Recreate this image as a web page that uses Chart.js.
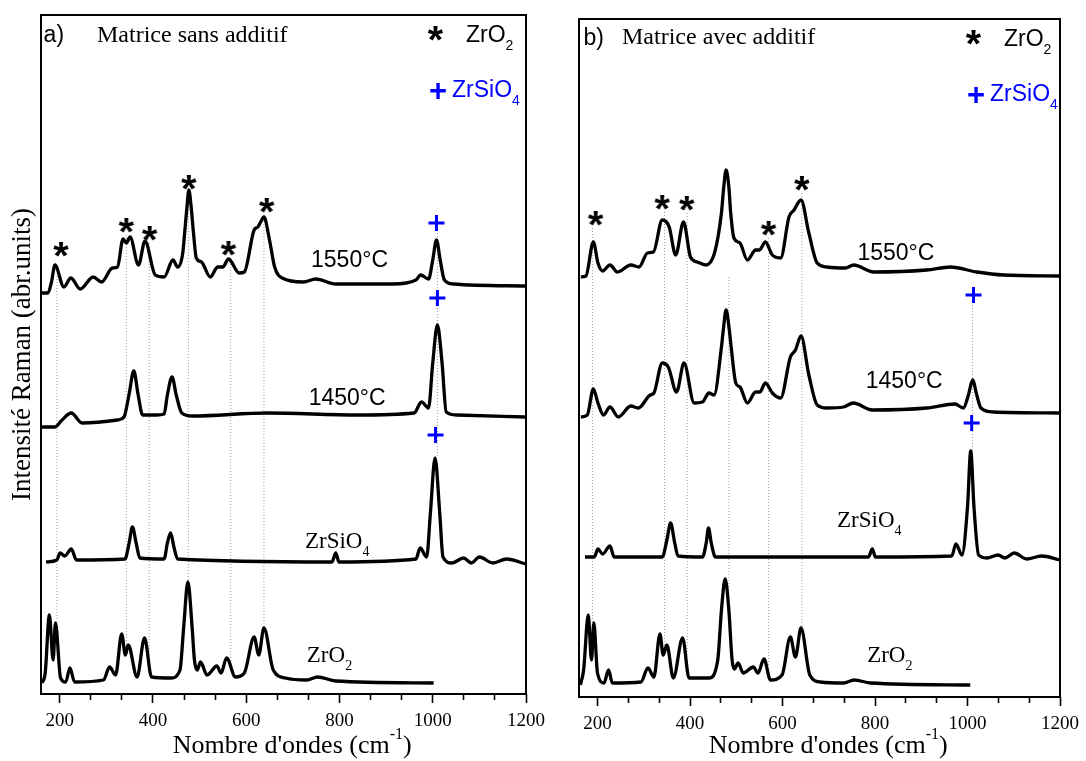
<!DOCTYPE html>
<html>
<head>
<meta charset="utf-8">
<title>Spectres Raman</title>
<script src="https://cdn.jsdelivr.net/npm/chart.js@4.4.1/dist/chart.umd.min.js"></script>
<style>
  html, body { margin: 0; padding: 0; background: #fff; }
  #wrap { position: relative; width: 1086px; height: 761px; overflow: hidden; background: #fff; }
  #wrap canvas { position: absolute; top: 0; }
</style>
</head>
<body>
<div id="wrap">
  <canvas id="chartA" width="565" height="761" style="left:0"></canvas>
  <canvas id="chartB" width="546" height="761" style="left:540px"></canvas>
</div>
<script>
// x axis ticks (cm-1)
const majorTicks = [200, 400, 600, 800, 1000, 1200];
const tickLabels = ["200", "400", "600", "800", "1000", "1200"];
const minorTicks = [266.67, 333.33, 466.67, 533.33, 666.67, 733.33, 866.67, 933.33, 1066.67, 1133.33];

// a) Matrice sans additif
const a1550Wn = [160,175,182,190,209,224,244,272,290,313,324,336,343,351,369,383,405,424,443,453,464,468,473,477,482,487,493,504,523,539,550,562,585,596,617,625,631,638,650,661,677,723,749,792,914,964,974,991,1000,1008,1016,1025,1044,1200];
const a1550I  = [401,401,411,429,407,416,405,417,412,426,427,455,451,457,429,453,419,417,434,427,441,461,487,504,487,461,436,432,417,427,427,435,421,422,464,467,472,477,454,427,416,412,415,410,410,414,419,415,434,454,434,414,410,408];

const a1450Wn = [162,190,205,225,248,324,338,349,359,368,378,408,424,431,441,450,462,485,646,838,960,976,991,1000,1010,1020,1029,1052,1200];
const a1450I  = [267,267,274,281,271,274,277,300,323,300,279,279,280,299,317,299,281,278,281,279,281,292,286,331,369,331,282,279,277];

const aZsWn = [171,194,201,211,225,236,340,349,356,364,372,424,431,438,445,453,784,792,799,964,973,987,995,1005,1015,1022,1041,1066,1083,1100,1129,1158,1200];
const aZsI  = [132,134,141,138,145,134,135,151,167,151,136,135,151,161,147,135,132,141,132,135,146,137,181,236,181,137,131,136,131,137,131,135,130];

const aZoWn = [162,169,178,186,191,202,213,222,232,294,307,320,333,341,347,366,382,397,439,458,466,475,484,489,495,502,516,537,546,558,577,596,617,627,638,658,684,730,753,792,1002];
const aZoI  = [11,21,79,34,71,16,12,26,12,14,27,19,60,39,49,17,56,17,16,24,67,112,67,34,24,32,19,28,21,36,17,21,57,39,66,24,16,14,17,13,11];

const aStarWn = [203, 343, 393, 477, 562, 644];
const aStarI  = [445, 469, 461, 512, 446, 489];
const aPlusWn = [1008, 1010, 1006];
const aPlusI  = [471, 396, 259];
const aGuideWn  = [194, 343, 392, 476, 567, 638, 1010];
const aGuideTop = [418, 459, 451, 502, 436, 479, 461];
const aGuideBot = [60, 40, 30, 110, 30, 66, 236];

// b) Matrice avec additif
const b1550Wn = [164,175,191,201,211,227,243,272,290,308,321,340,355,369,386,401,416,434,453,468,473,478,484,488,495,508,524,542,550,563,578,596,614,625,640,657,675,696,736,754,797,912,963,1020,1078,1200];
const b1550I  = [420,421,455,434,426,432,425,432,430,444,445,477,470,442,475,440,435,432,444,484,510,527,510,484,459,454,437,447,447,455,442,439,480,487,497,464,434,430,429,432,425,427,430,425,422,421];

const b1450Wn = [164,178,191,201,213,227,245,272,288,314,322,340,353,371,387,409,427,441,452,468,472,478,485,489,499,508,524,542,551,563,578,596,617,628,640,657,675,696,732,753,794,912,973,991,1002,1011,1020,1029,1056,1200];
const b1450I  = [280,282,308,294,282,290,280,291,289,302,304,334,330,305,334,294,295,304,302,350,367,387,367,350,314,310,294,305,305,314,304,299,340,347,361,322,292,289,290,294,287,289,293,289,302,317,302,289,285,284];

const bZsWn = [173,193,201,211,227,236,340,350,358,367,374,427,435,440,446,455,786,794,801,966,975,988,1000,1007,1014,1024,1042,1066,1081,1101,1128,1160,1200];
const bZsI  = [140,140,148,143,151,140,140,157,174,154,141,140,154,169,154,140,140,148,140,141,153,142,190,246,190,142,139,142,139,144,138,141,137];

const bZoWn = [163,170,180,187,192,200,214,224,232,294,309,322,335,342,350,364,384,398,441,460,468,476,484,491,496,504,515,537,547,560,574,599,617,628,640,659,682,732,755,790,1006];
const bZoI  = [12,27,82,37,74,24,14,27,14,15,29,20,63,42,52,19,59,19,19,37,87,118,87,37,28,34,24,30,24,38,17,22,60,40,69,22,15,14,17,14,12];

const bStarWn = [196, 340, 393, 570, 642];
const bStarI  = [479, 495, 494, 469, 514];
const bPlusWn = [1013, 1009];
const bPlusI  = [402, 274];
const bGuideWn  = [189, 345, 394, 484, 570, 642, 1011];
const bGuideTop = [469, 485, 484, 420, 459, 504, 392];
const bGuideBot = [74, 45, 40, 95, 30, 69, 246];

const FONT_SANS = '"Liberation Sans", Arial, sans-serif';
const FONT_SERIF = '"Liberation Serif", "Times New Roman", serif';
const BLUE = "#0000ff";

// asterisk marker, drawn from the font glyph
const makeStar = (h) => {
    const probe = document.createElement("canvas").getContext("2d");
    probe.font = `bold 100px ${FONT_SANS}`;
    const pm = probe.measureText("*");
    const fs = (100 * h) / (pm.actualBoundingBoxAscent + pm.actualBoundingBoxDescent);
    const size = Math.ceil(h * 1.6);
    const c = document.createElement("canvas");
    c.width = size;
    c.height = size;
    const g = c.getContext("2d");
    g.font = `bold ${fs}px ${FONT_SANS}`;
    g.textAlign = "center";
    const m = g.measureText("*");
    g.fillStyle = "#000";
    g.fillText("*", size / 2, size / 2 + (m.actualBoundingBoxAscent - m.actualBoundingBoxDescent) / 2);
    return { img: c, fontSize: fs };
};
const star = makeStar(15);

const drawRich = (ctx, x, y, parts, family, size, color) => {
    ctx.fillStyle = color;
    ctx.textAlign = "left";
    ctx.textBaseline = "alphabetic";
    parts.forEach(([txt, kind]) => {
        let fs = size;
        let dy = 0;
        if (kind === "sub") { fs = Math.round(size * 0.62); dy = size * 0.36; }
        if (kind === "sup") { fs = Math.round(size * 0.62); dy = -size * 0.52; }
        ctx.font = `${fs}px ${family}`;
        ctx.fillText(txt, x, y + dy);
        x += ctx.measureText(txt).width;
    });
    return x;
};

const richWidth = (ctx, parts, family, size) => {
    let w = 0;
    parts.forEach(([txt, kind]) => {
        const fs = kind ? Math.round(size * 0.62) : size;
        ctx.font = `${fs}px ${family}`;
        w += ctx.measureText(txt).width;
    });
    return w;
};

const centeredGlyph = (ctx, ch, cx, cy, font, color) => {
    ctx.font = font;
    ctx.fillStyle = color;
    ctx.textAlign = "center";
    ctx.textBaseline = "alphabetic";
    const m = ctx.measureText(ch);
    ctx.fillText(ch, cx, cy + (m.actualBoundingBoxAscent - m.actualBoundingBoxDescent) / 2);
};

const panelPlugin = (p) => ({
    id: "panelText" + p.tag,
    afterDraw(chart) {
        const { ctx, chartArea: ca, scales } = chart;
        ctx.save();
        ctx.strokeStyle = "#000";
        ctx.lineWidth = 2;
        ctx.strokeRect(ca.left, ca.top, ca.right - ca.left, ca.bottom - ca.top);

        drawRich(ctx, ca.left + p.tagDx, ca.top + p.tagDy, [[p.tag + ")"]], FONT_SANS, 23, "#000");
        drawRich(ctx, ca.left + p.titleDx, ca.top + p.titleDy, [[p.title]], FONT_SERIF, 24, "#000");

        // key
        centeredGlyph(ctx, "*", ca.left + 394.5, ca.top + p.keyDy + 18, `bold ${star.fontSize}px ${FONT_SANS}`, "#000");
        drawRich(ctx, ca.left + 425, ca.top + p.keyDy + 27, [["ZrO"], ["2", "sub"]], FONT_SANS, 23, "#000");
        centeredGlyph(ctx, "+", ca.left + 397, ca.top + p.keyDy + 75, `bold 31px ${FONT_SANS}`, BLUE);
        drawRich(ctx, ca.left + 411, ca.top + p.keyDy + 82, [["ZrSiO"], ["4", "sub"]], FONT_SANS, 23, BLUE);

        p.labels.forEach((l) => {
            drawRich(ctx, scales.x.getPixelForValue(l.x), scales.y.getPixelForValue(l.y),
                l.parts, l.serif ? FONT_SERIF : FONT_SANS, 23, "#000");
        });

        const xt = [["Nombre d'ondes (cm"], ["-1", "sup"], [")"]];
        const w = richWidth(ctx, xt, FONT_SERIF, 26);
        drawRich(ctx, (ca.left + ca.right) / 2 - w / 2 + 8.7, 753, xt, FONT_SERIF, 26, "#000");
        ctx.restore();
    },
});

const spectrum = (xs, ys) => ({
    data: xs.map((x, i) => ({ x, y: ys[i] })),
    borderColor: "#000",
    borderWidth: 3.3,
    pointRadius: 0,
    cubicInterpolationMode: "monotone",
    borderJoinStyle: "round",
    fill: false,
    order: 1,
});

const guides = (xs, tops, bots) => xs.map((x, i) => ({
    data: [{ x, y: tops[i] }, { x, y: bots[i] }],
    borderColor: "#999999",
    borderWidth: 1,
    borderDash: [1, 2],
    pointRadius: 0,
    fill: false,
    order: 2,
}));

const markers = (xs, ys, plus) => ({
    data: xs.map((x, i) => ({ x, y: ys[i] })),
    showLine: false,
    pointStyle: plus ? "cross" : star.img,
    pointRadius: 8,
    pointBorderWidth: plus ? 3 : 0,
    pointBorderColor: plus ? BLUE : "#000",
    borderColor: plus ? BLUE : "#000",
    order: 0,
});

const makeChart = (id, p) => {
    new Chart(document.getElementById(id), {
        type: "line",
        data: {
            datasets: [
                ...p.spectra.map(([xs, ys]) => spectrum(xs, ys)),
                markers(p.starWn, p.starI, false),
                markers(p.plusWn, p.plusI, true),
                ...guides(p.guideWn, p.guideTop, p.guideBot),
            ],
        },
        options: {
            responsive: false,
            animation: false,
            events: [],
            layout: { padding: { left: 0, right: p.padRight, top: p.padTop, bottom: 0 } },
            plugins: { legend: { display: false }, tooltip: { enabled: false } },
            scales: {
                x: {
                    type: "linear",
                    position: "bottom",
                    weight: 1,
                    min: 160,
                    max: 1200,
                    afterBuildTicks: (s) => { s.ticks = majorTicks.map((v) => ({ value: v })); },
                    afterFit: (s) => { s.height = p.axisHeight; },
                    ticks: {
                        autoSkip: false,
                        maxRotation: 0,
                        padding: 7,
                        color: "#000",
                        font: { family: FONT_SERIF, size: 19 },
                        callback: (v, i) => tickLabels[i],
                    },
                    grid: { drawOnChartArea: false, tickLength: 9, tickWidth: 1.6, tickColor: "#000" },
                    border: { display: false },
                },
                x2: {
                    type: "linear",
                    position: "bottom",
                    weight: 0,
                    min: 160,
                    max: 1200,
                    afterBuildTicks: (s) => { s.ticks = minorTicks.map((v) => ({ value: v })); },
                    afterFit: (s) => { s.height = 0; },
                    ticks: { display: false },
                    grid: { drawOnChartArea: false, tickLength: 6, tickWidth: 1.6, tickColor: "#000" },
                    border: { display: false },
                },
                y: {
                    min: 0,
                    max: p.yMax,
                    afterFit: (s) => { s.width = p.axisWidth; },
                    ticks: { display: false },
                    grid: { display: false },
                    border: { display: false },
                    title: {
                        display: p.yTitle,
                        text: "Intensité Raman (abr.units)",
                        color: "#000",
                        font: { family: FONT_SERIF, size: 27 },
                        padding: { top: 7, bottom: 0 },
                    },
                },
            },
        },
        plugins: [panelPlugin(p)],
    });
};

makeChart("chartA", {
    tag: "a",
    title: "Matrice sans additif",
    tagDx: 2.6, tagDy: 26.7, titleDx: 56, titleDy: 27, keyDy: 0,
    padRight: 39, padTop: 15, axisHeight: 67, axisWidth: 41, yMax: 679, yTitle: true,
    spectra: [[a1550Wn, a1550I], [a1450Wn, a1450I], [aZsWn, aZsI], [aZoWn, aZoI]],
    starWn: aStarWn, starI: aStarI, plusWn: aPlusWn, plusI: aPlusI,
    guideWn: aGuideWn, guideTop: aGuideTop, guideBot: aGuideBot,
    labels: [
        { x: 739, y: 427, parts: [["1550°C"]] },
        { x: 734, y: 289, parts: [["1450°C"]] },
        { x: 726, y: 146, parts: [["ZrSiO"], ["4", "sub"]], serif: true },
        { x: 730, y: 32, parts: [["ZrO"], ["2", "sub"]], serif: true },
    ],
});

makeChart("chartB", {
    tag: "b",
    title: "Matrice avec additif",
    tagDx: 4.5, tagDy: 26, titleDx: 43, titleDy: 24.5, keyDy: 0,
    padRight: 24, padTop: 19, axisHeight: 64, axisWidth: 39, yMax: 678, yTitle: false,
    spectra: [[b1550Wn, b1550I], [b1450Wn, b1450I], [bZsWn, bZsI], [bZoWn, bZoI]],
    starWn: bStarWn, starI: bStarI, plusWn: bPlusWn, plusI: bPlusI,
    guideWn: bGuideWn, guideTop: bGuideTop, guideBot: bGuideBot,
    labels: [
        { x: 762, y: 437, parts: [["1550°C"]] },
        { x: 780, y: 309, parts: [["1450°C"]] },
        { x: 718, y: 170, parts: [["ZrSiO"], ["4", "sub"]], serif: true },
        { x: 783, y: 35, parts: [["ZrO"], ["2", "sub"]], serif: true },
    ],
});
</script>
</body>
</html>
